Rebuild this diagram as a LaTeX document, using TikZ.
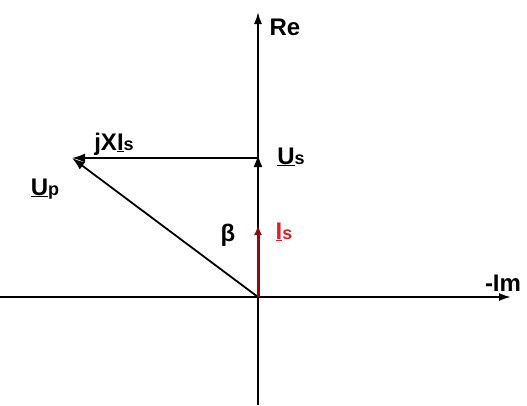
\documentclass[tikz,border=0pt]{standalone}
\usepackage{fontspec}
\setmainfont{Liberation Sans}
\usetikzlibrary{arrows.meta}
\definecolor{darkred}{RGB}{140,10,20}
\definecolor{lblred}{RGB}{225,30,40}
\newcommand{\sbs}[1]{{\fontsize{18}{21}\selectfont #1}}
\tikzset{
  axis/.style={line width=1.8pt,-{Latex[length=12pt,width=8pt]}},
  vec/.style={line width=1.8pt,-{Latex[length=13pt,width=9pt]}},
  lbl/.style={font=\fontsize{24}{28}\selectfont\bfseries,inner sep=0pt},
}
\begin{document}
\begin{tikzpicture}[x=1pt,y=-1pt]
\useasboundingbox (0,0) rectangle (527,405);
\coordinate (O) at (258,297);
\coordinate (top) at (258,12);
\coordinate (bot) at (258,405);
\coordinate (left) at (0,297);
\coordinate (right) at (511,297);
\coordinate (Us) at (258,154);
\coordinate (Usr) at (258,158);
\coordinate (Up) at (72,158);
\coordinate (Is) at (258,225);
\draw[axis] (bot) -- (top);
\draw[axis] (left) -- (right);
\draw[vec,line width=2.6pt] (O) -- (Us);
\draw[vec] (Usr) -- (Up);
\draw[vec] (O) -- (Up);
\draw[line width=3pt,darkred,-{Latex[length=10pt,width=8pt]},draw=darkred] (O) -- (Is);
\node[lbl] (lre) at (285,27) {Re};
\node[lbl] (lim) at (503,283) {-Im};
\node[lbl,anchor=base] (ljx) at (114,150) {jX\underline{I}\sbs{s}};
\node[lbl,anchor=base] (lus) at (291,164) {\underline{U}\sbs{s}};
\node[lbl,anchor=base] (lup) at (45,195) {\underline{U}\sbs{p}};
\node[lbl] (lb) at (228,235) {β};
\node[lbl,anchor=base,text=lblred] (lis) at (284,239) {\underline{I}\sbs{s}};
\end{tikzpicture}
\end{document}
